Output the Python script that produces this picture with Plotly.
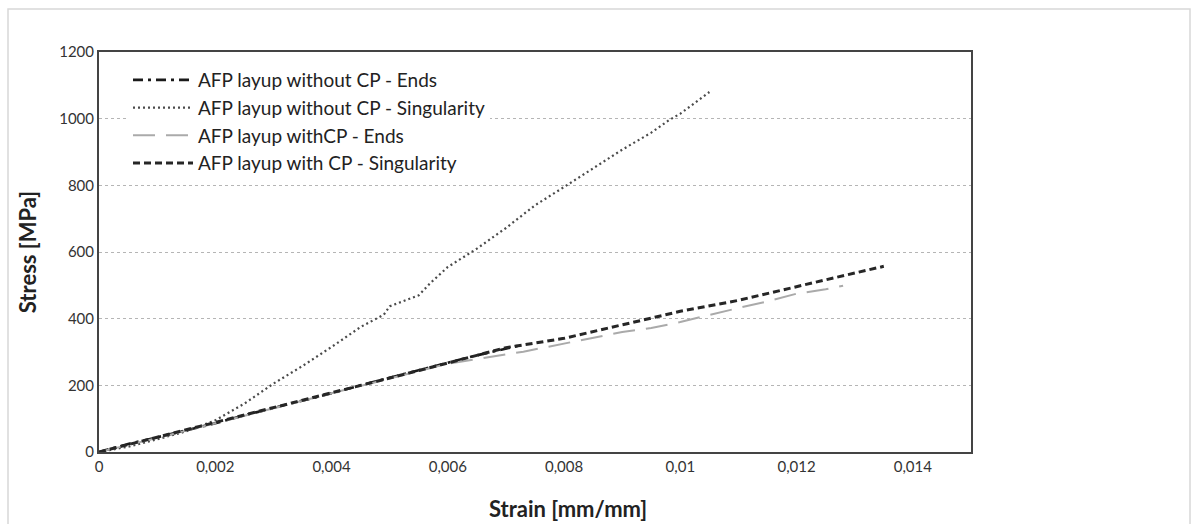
import plotly.graph_objects as go

# Data
strain_noCP_ends = [0, 0.0005, 0.001, 0.0015, 0.002, 0.0025, 0.003, 0.0035, 0.004, 0.0045, 0.005, 0.0055, 0.006, 0.0065, 0.0072]
stress_noCP_ends = [0, 24, 44, 64, 86, 110, 132, 153, 176, 200, 222, 246, 268, 290, 318]

strain_noCP_sing = [0, 0.0005, 0.001, 0.0015, 0.002, 0.0025, 0.003, 0.0035, 0.004, 0.0045, 0.0049, 0.005, 0.0055, 0.0057, 0.006, 0.0065,
                    0.007, 0.0075, 0.008, 0.0085, 0.009, 0.0095, 0.0098, 0.01, 0.0105]
stress_noCP_sing = [0, 16, 38, 62, 95, 145, 205, 258, 315, 375, 412, 437, 470, 507, 555, 610,
                    672, 740, 795, 850, 907, 958, 995, 1015, 1080]

strain_CP_ends = [0, 0.0005, 0.001, 0.0015, 0.002, 0.003, 0.004, 0.005, 0.006, 0.0073, 0.008, 0.0085, 0.009, 0.0095, 0.01, 0.011, 0.0115,
                  0.012, 0.0125, 0.0128]
stress_CP_ends = [0, 20, 42, 64, 87, 131, 176, 221, 265, 301, 325, 342, 360, 372, 390, 432, 452, 475, 488, 499]

strain_CP_sing = [0, 0.0005, 0.001, 0.0015, 0.002, 0.003, 0.004, 0.005, 0.006, 0.007, 0.008, 0.009, 0.0095, 0.01, 0.011, 0.012, 0.013, 0.0135]
stress_CP_sing = [0, 22, 44, 66, 88, 132, 177, 222, 267, 313, 341, 382, 402, 422, 455, 497, 537, 557]

x_ticks = [0, 0.002, 0.004, 0.006, 0.008, 0.01, 0.012, 0.014]
x_tick_labels = ["0", "0,002", "0,004", "0,006", "0,008", "0,01", "0,012", "0,014"]
y_ticks = [0, 200, 400, 600, 800, 1000, 1200]

FONT = "Lato, 'Open Sans', sans-serif"

fig = go.Figure()
fig.add_trace(go.Scatter(x=strain_noCP_ends, y=stress_noCP_ends, mode="lines",
                         name="AFP layup without CP - Ends",
                         line=dict(color="#1a1a1a", width=2.6, dash="10px,5px,3px,5px")))
fig.add_trace(go.Scatter(x=strain_noCP_sing, y=stress_noCP_sing, mode="lines",
                         name="AFP layup without CP - Singularity",
                         line=dict(color="#4a4a4a", width=2.2, dash="2px,3px")))
fig.add_trace(go.Scatter(x=strain_CP_ends, y=stress_CP_ends, mode="lines",
                         name="AFP layup withCP - Ends",
                         line=dict(color="#aaaaaa", width=2, dash="22px,11px")))
fig.add_trace(go.Scatter(x=strain_CP_sing, y=stress_CP_sing, mode="lines",
                         name="AFP layup with CP - Singularity",
                         line=dict(color="#262626", width=3, dash="7px,4px")))

W, H = 1192, 524
L, R, T, B = 99, 221, 52, 72
pw, ph = W - L - R, H - T - B

def px(xp):
    return (xp - L) / pw

def py(yp):
    return (H - B - yp) / ph

fig.update_layout(
    width=W, height=H,
    margin=dict(l=L, r=R, t=T, b=B),
    paper_bgcolor="white", plot_bgcolor="white",
    font=dict(family=FONT, size=15, color="#333333"),
    showlegend=True,
    legend=dict(x=px(128), y=py(61), xanchor="left", yanchor="top",
                bgcolor="white", borderwidth=0,
                font=dict(family=FONT, size=19, color="#222222"),
                tracegroupgap=0, itemwidth=60),
    shapes=[dict(type="rect", xref="paper", yref="paper",
                 x0=px(8), x1=px(1190), y0=py(540), y1=py(9),
                 line=dict(color="#d8d8d8", width=1.5), layer="below")],
    annotations=[dict(text="<b>Strain [mm/mm]</b>", xref="paper", yref="paper",
                      x=px(568), y=py(508), xanchor="center", yanchor="middle",
                      showarrow=False, font=dict(family=FONT, size=22, color="#222222"))],
)

fig.update_xaxes(
    range=[0, 0.015], tickvals=x_ticks, ticktext=x_tick_labels,
    showline=True, linecolor="#444444", linewidth=2, mirror=True,
    showgrid=False, zeroline=False, ticks="",
    tickfont=dict(family=FONT, size=15, color="#333333"),
)
fig.update_yaxes(
    range=[0, 1200], tickvals=y_ticks,
    showline=True, linecolor="#444444", linewidth=2, mirror=True,
    showgrid=True, gridcolor="#b5b5b5", griddash="dot", gridwidth=1.3, zeroline=False, ticks="",
    tickfont=dict(family=FONT, size=15, color="#333333"),
    title=dict(text="<b>Stress [MPa]</b>", font=dict(family=FONT, size=22, color="#222222"), standoff=16),
)

fig.write_html("out.html")
